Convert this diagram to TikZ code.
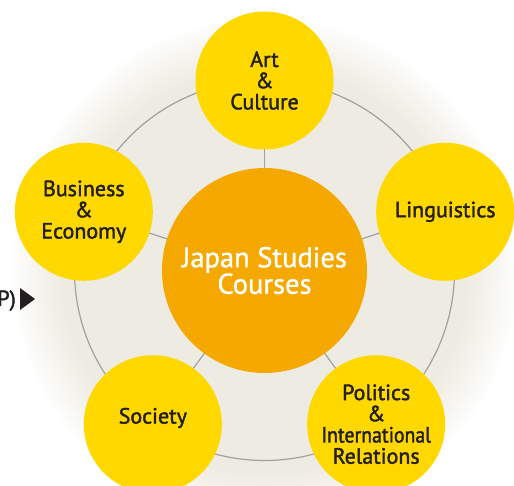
\documentclass[tikz,border=0pt]{standalone}
\usepackage{fontspec}
\setmainfont{PT Sans}
\newfontfamily\satfont[FakeBold=1.8]{PT Sans}
\newfontfamily\hubfont[FakeBold=1.2]{PT Sans}
\usetikzlibrary{calc}

\definecolor{ink}{RGB}{35,31,32}
\definecolor{sand}{RGB}{238,236,226}
\definecolor{gold}{RGB}{255,216,0}
\definecolor{amber}{RGB}{245,168,0}
\definecolor{rim}{RGB}{160,160,160}

% soft sand-coloured disc that fades out to white at its edge
\pgfdeclareradialshading{halo}{\pgfpoint{0bp}{0bp}}{%
  color(0bp)=(sand); color(19.5bp)=(sand); color(22bp)=(sand!55!white);
  color(24.5bp)=(white); color(50bp)=(white)}

\begin{document}
\begin{tikzpicture}[
  x=1pt, y=1pt,
  sat/.style={circle, fill=gold, minimum size=138pt, inner sep=0pt, outer sep=0pt, align=center, text=ink, font=\satfont\fontsize{22}{21.2}\selectfont},
  hub/.style={circle, fill=amber, minimum size=205pt, inner sep=0pt, outer sep=0pt, align=center, text=white, font=\hubfont\fontsize{28.5}{26.5}\selectfont},
  rim/.style={draw=rim, line width=1.2pt},
]
\clip (0,0) rectangle (514,486);

% middle of the wheel
\coordinate (mid) at (264.5,215.5);
\shade[shading=halo] (mid) circle (260);
\draw[rim] (mid) circle (190);

% the courses
\node[hub] (core) at (mid) {Japan Studies\\Courses};
\node[sat] (art) at ($(mid)+(90:190)$) {Art\\\&\\Culture};
\node[sat] (ling) at ($(mid)+(18:190)$) {Linguistics};
\node[sat] (pol) at ($(mid)+(-54:190)$) {Politics\\\&\\\scalebox{0.9}[1]{International}\\Relations};
\node[sat, text depth=17pt] (soc) at ($(mid)+(234:190)$) {Society};
\node[sat] (biz) at ($(mid)+(162:190)$) {Business\\\&\\Economy};

% spokes
\foreach \s in {art,ling,pol,soc,biz}
  \draw[rim] (core) -- (\s);

% cut-off pointer at the left edge
\node[anchor=base east, text=ink, font=\satfont\fontsize{22}{22}\selectfont, inner sep=0pt] (prev) at (16,180) {P)};
\fill[ink] (20,198) -- (20,176) -- (35,187) -- cycle;
\end{tikzpicture}
\end{document}
